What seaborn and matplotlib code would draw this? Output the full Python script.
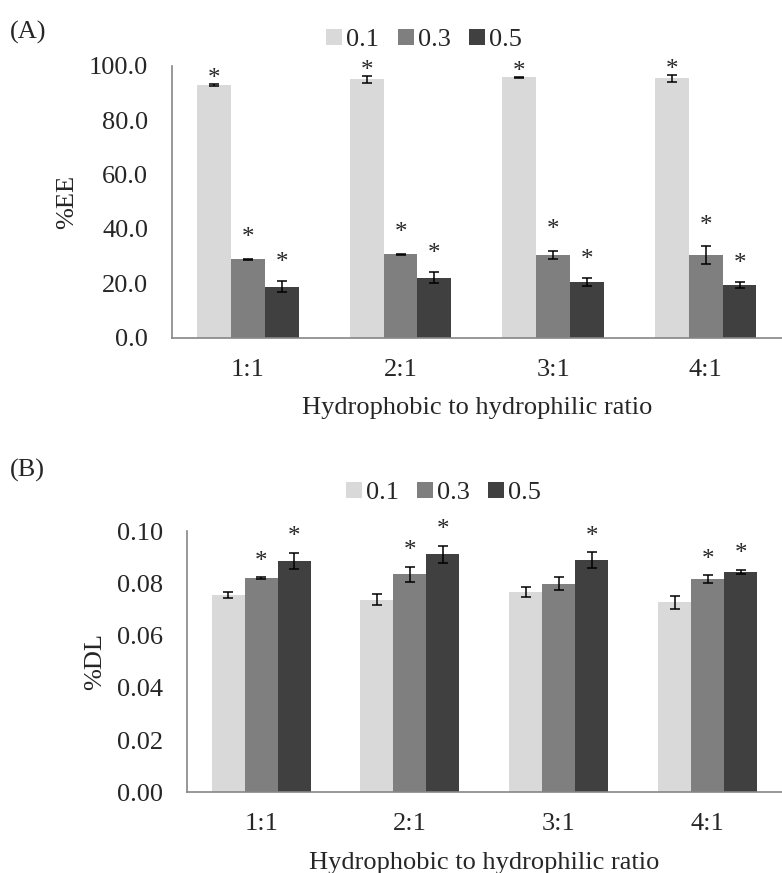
import numpy as np
import pandas as pd
import matplotlib
matplotlib.use("Agg")
import matplotlib.pyplot as plt
from matplotlib.patches import Patch
import seaborn as sns

# ratios and loading levels
ratios = ["1:1", "2:1", "3:1", "4:1"]
levels = ["0.1", "0.3", "0.5"]
colors = ["#d9d9d9", "#7f7f7f", "#404040"]

# %EE (panel A), one list per level, with SD
ee_01 = [92.9, 95.0, 95.8, 95.3]
ee_03 = [28.9, 30.7, 30.4, 30.4]
ee_05 = [18.8, 22.1, 20.5, 19.3]
ee_01_sd = [0.4, 1.2, 0.2, 1.3]
ee_03_sd = [0.2, 0.2, 1.5, 3.2]
ee_05_sd = [2.1, 2.1, 1.5, 1.2]
ee_star = [[1, 1, 1, 1], [1, 1, 1, 1], [1, 1, 1, 1]]

# %DL (panel B)
dl_01 = [0.0756, 0.0737, 0.0766, 0.0728]
dl_03 = [0.0820, 0.0835, 0.0798, 0.0816]
dl_05 = [0.0886, 0.0912, 0.0890, 0.0844]
dl_01_sd = [0.0011, 0.0021, 0.0019, 0.0024]
dl_03_sd = [0.0003, 0.0029, 0.0025, 0.0015]
dl_05_sd = [0.0032, 0.0033, 0.0029, 0.0008]
dl_star = [[0, 0, 0, 0], [1, 1, 0, 1], [1, 1, 1, 1]]

FS = 19
GREY = "#868686"


def make_df(vals, sds):
    rows = []
    for lev, v, s in zip(levels, vals, sds):
        for r, vv, ss in zip(ratios, v, s):
            rows.append({"ratio": r, "level": lev, "value": vv, "sd": ss})
    return pd.DataFrame(rows)


def draw(ax, df, stars, ymax, step, fmt, ylabel, xlim_r, star_off):
    sns.barplot(data=df, x="ratio", y="value", hue="level", order=ratios,
                hue_order=levels, palette=colors, width=0.665, saturation=1,
                errorbar=None, edgecolor="none", linewidth=0, legend=False, ax=ax)
    # error bars and stars from the bar patches
    bars = [p for p in ax.patches if p.get_width() > 0]
    for i, lev in enumerate(levels):
        sub = df[df["level"] == lev]
        for j, r in enumerate(ratios):
            p = bars[i * len(ratios) + j]
            x = p.get_x() + p.get_width() / 2
            v = sub["value"].iloc[j]
            s = sub["sd"].iloc[j]
            ax.errorbar(x, v, yerr=s, fmt="none", ecolor="black",
                        elinewidth=1.1, capsize=3.8, capthick=1.1)
            if stars[i][j]:
                ax.annotate("*", (x, v + s), xytext=(0, star_off[i]),
                            textcoords="offset points", ha="center",
                            va="baseline", fontsize=18)
    ax.set_ylim(0, ymax)
    ax.set_yticks(np.arange(0, ymax + step / 2, step))
    ax.set_yticklabels([fmt % t for t in np.arange(0, ymax + step / 2, step)],
                       fontsize=FS)
    ax.set_xlim(-0.5, xlim_r)
    ax.set_xticks(range(len(ratios)))
    ax.set_xticklabels(ratios, fontsize=FS)
    ax.set_xticks(np.arange(-0.5, len(ratios), 1.0), minor=True)
    ax.tick_params(axis="x", which="major", length=0, pad=15)
    ax.tick_params(axis="x", which="minor", length=6, color=GREY, direction="out")
    ax.tick_params(axis="y", length=6, color=GREY, direction="out", pad=11)
    for side in ["top", "right"]:
        ax.spines[side].set_visible(False)
    for side in ["left", "bottom"]:
        ax.spines[side].set_color(GREY)
        ax.spines[side].set_linewidth(1.2)
    ax.set_xlabel("Hydrophobic to hydrophilic ratio", fontsize=FS, labelpad=12)
    ax.set_ylabel(ylabel, fontsize=FS, labelpad=8)
    ax.set_facecolor("white")


sns.set_style("white")
plt.rcParams['font.family'] = ['Liberation Serif', 'DejaVu Serif']

W, H = 782, 873
fig = plt.figure(figsize=(W / 100, H / 100), dpi=100)
ax1 = fig.add_axes([171.7 / W, 1 - 337.7 / H, (W - 171.7) / W, 272 / H])
ax2 = fig.add_axes([186.7 / W, 1 - 792.4 / H, (W - 186.7) / W, 261.2 / H])

df_ee = make_df([ee_01, ee_03, ee_05], [ee_01_sd, ee_03_sd, ee_05_sd])
df_dl = make_df([dl_01, dl_03, dl_05], [dl_01_sd, dl_03_sd, dl_05_sd])

draw(ax1, df_ee, ee_star, 100, 20, "%.1f", "%EE", 3.42, [-1, 10.5, 8.5])
draw(ax2, df_dl, dl_star, 0.10, 0.02, "%.2f", "%DL", 3.44, [7, 7, 7])

handles = [Patch(facecolor=c, edgecolor="none", label=l) for c, l in zip(colors, levels)]
for cx, cy in [(424, 40), (443.5, 493)]:
    fig.legend(handles=handles, loc="center", bbox_to_anchor=(cx / W, 1 - cy / H),
               ncol=3, frameon=False, fontsize=FS, handlelength=0.6,
               handleheight=0.6, handletextpad=0.15, columnspacing=0.7,
               borderpad=0, borderaxespad=0)

fig.text(10 / W, 1 - 32 / H, "(A)", fontsize=FS, va="center", ha="left")
fig.text(10 / W, 1 - 470 / H, "(B)", fontsize=FS, va="center", ha="left")

fig.savefig("out.png", dpi=100, facecolor="white")
